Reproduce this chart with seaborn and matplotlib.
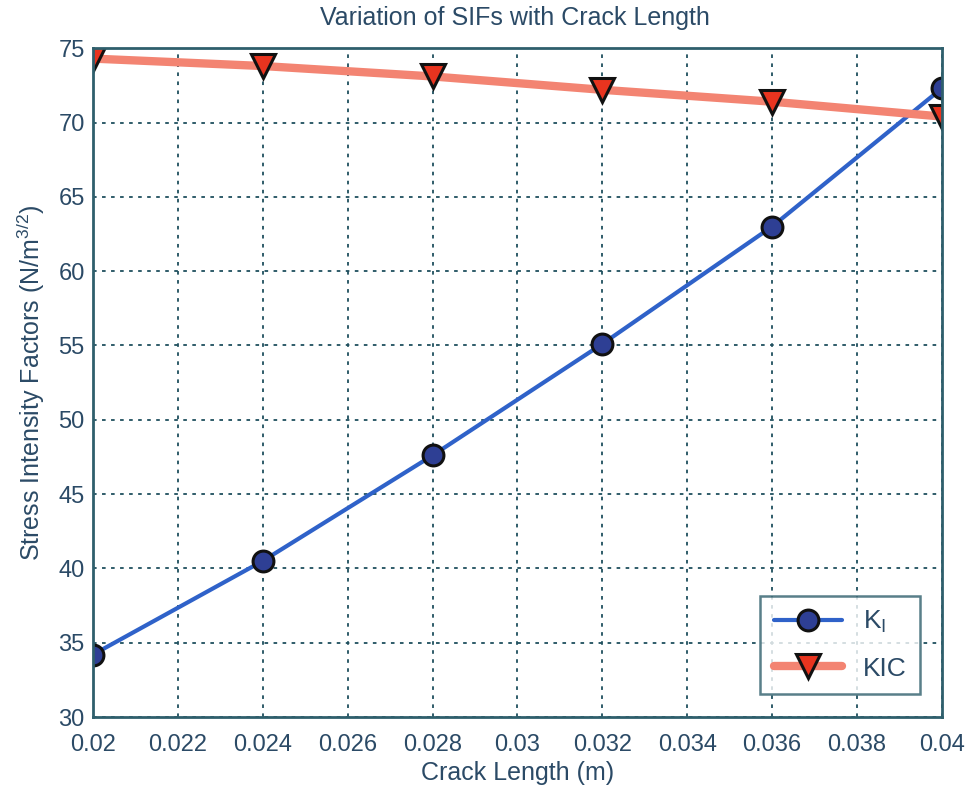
import numpy as np
import pandas as pd
import matplotlib
matplotlib.use("Agg")
import matplotlib.pyplot as plt
import seaborn as sns

crack_length = [0.020, 0.024, 0.028, 0.032, 0.036, 0.040]
k_i = [34.2, 40.5, 47.6, 55.1, 63.0, 72.3]
k_ic = [74.3, 73.8, 73.1, 72.2, 71.4, 70.4]

sns.set_theme(style="white")
plt.rcParams["font.family"] = ["Liberation Sans", "DejaVu Sans"]

text_col = "#2b4a66"
axis_col = "#2f5f6c"

df = pd.DataFrame({"a": crack_length, "KI": k_i, "KIC": k_ic})

fig = plt.figure(figsize=(9.72, 7.9), dpi=100)
ax = fig.add_axes([0.0957, 0.0924, 0.8733, 0.8466])

sns.lineplot(data=df, x="a", y="KI", ax=ax, color="#2f62c9", linewidth=3,
             marker="o", markersize=15, markerfacecolor="#2e3f94",
             markeredgecolor="#111111", markeredgewidth=2.2, label="K$_\\mathregular{I}$")
sns.lineplot(data=df, x="a", y="KIC", ax=ax, color="#f38472", linewidth=6,
             marker="v", markersize=17, markerfacecolor="#e8341f",
             markeredgecolor="#111111", markeredgewidth=2.2, label="KIC")

ax.set_xlim(0.02, 0.04)
ax.set_ylim(30, 75)
ax.set_xticks(np.arange(0.02, 0.0401, 0.002))
ax.set_xticklabels(["0.02", "0.022", "0.024", "0.026", "0.028", "0.03",
                    "0.032", "0.034", "0.036", "0.038", "0.04"])
ax.set_yticks(np.arange(30, 76, 5))
ax.grid(True, linestyle=(0, (2, 3)), color="#1f4f5e", linewidth=1.3)
for s in ax.spines.values():
    s.set_color(axis_col)
    s.set_linewidth(2)
ax.tick_params(axis="both", colors=axis_col, labelcolor=text_col, labelsize=17,
               direction="in", length=6, width=1.5)
ax.tick_params(axis="x", pad=12)
ax.tick_params(axis="y", pad=6)

fig.text(0.53, 0.977, "Variation of SIFs with Crack Length", ha="center", va="center",
         fontsize=18, color=text_col)
ax.set_xlabel("Crack Length (m)", fontsize=18, color=text_col, labelpad=4)
ax.set_ylabel("Stress Intensity Factors (N/m$^{\\mathregular{3/2}}$)", fontsize=18,
              color=text_col, labelpad=8)

leg = ax.legend(loc="lower right", fontsize=19, frameon=True, fancybox=False,
                handlelength=2.6, borderpad=0.5, labelspacing=0.8,
                bbox_to_anchor=(0.99, 0.015))
leg.get_frame().set_edgecolor(axis_col)
leg.get_frame().set_linewidth(1.8)
for t in leg.get_texts():
    t.set_color(text_col)

fig.savefig("out.png", dpi=100, facecolor="white")
